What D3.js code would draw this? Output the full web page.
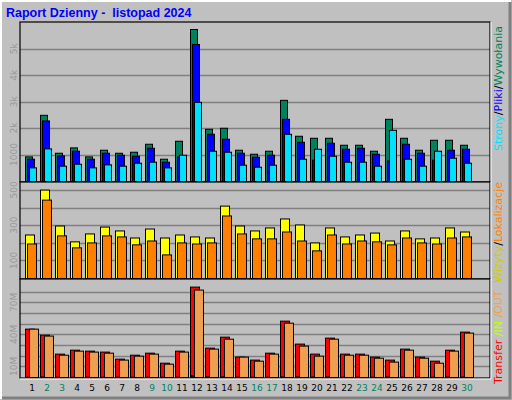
<!DOCTYPE html>
<html><head><meta charset="utf-8">
<script src="https://cdn.jsdelivr.net/npm/d3@7"></script>
<style>body{margin:0;background:#fff}</style></head>
<body><svg id="c" width="512" height="400"></svg>
<script>
const days = d3.range(1,31);
const weekend = [2,3,9,10,16,17,23,24,30];
const hits  = [931,2503,1069,1271,931,1183,1069,1107,1409,843,1522,5749,1975,2013,1183,1031,1145,3069,1711,1635,1635,1371,1371,1145,2352,1635,1183,1560,1560,1371];
const files = [843,2290,969,1145,843,1069,994,956,1258,730,931,5183,1786,1598,1069,918,994,2352,1484,805,1447,1220,1258,1031,780,1409,1069,805,1183,1220];
const pages = [516,1233,579,654,516,629,579,692,730,516,994,2994,1145,1107,616,541,616,1786,843,1220,956,730,730,579,1937,843,579,1145,881,692];
const visits= [247,502,298,208,253,292,270,230,281,230,247,236,230,411,298,270,287,338,304,202,287,236,247,258,213,270,225,230,287,264];
const sites = [196,445,242,174,202,242,236,191,213,134,202,196,202,355,253,225,225,264,213,157,247,196,213,208,191,230,202,196,230,236];
const kbTotal=[45.3,39.7,21.9,25.6,24.7,23.8,17.2,20.9,22.8,13.4,24.7,84.7,27.5,37.8,19.1,16.3,22.8,52.8,31.3,21.9,36.9,21.9,21.9,19.1,16.3,26.6,19.1,15.3,25.6,42.5];
const kbIn  = [0.3,0.5,0.3,0.3,0.3,0.3,0.3,0.3,0.3,0.3,0.3,1.8,0.5,0.6,0.3,0.3,0.3,0.6,0.5,0.5,0.5,0.3,0.3,0.3,0.5,0.3,0.3,0.3,0.5,0.4];
const kbOut = [45.3,38.8,20.9,24.7,23.8,22.8,16.3,20,21.9,12.5,23.8,81.9,26.6,35.9,19.1,15.3,21.9,50.9,29.4,20,35.9,20.9,20.9,18.1,14.4,25.6,18.1,13.4,24.7,41.6];
const topTicks=[1000,2000,3000,4000,5000], topLabels=["1000","2k","3k","4k","5k"];
const midTicks=[100,200,300,400,500], midLabels=["100","","300","","500"];
const botTicks=[10,20,30,40,50,60,70,80], botLabels=["10M","","","40M","","","70M",""];

const svg=d3.select("#c");
svg.append("rect").attr("width",512).attr("height",400).attr("fill","#C0C0C0");
svg.append("path").attr("d","M1,399V1H511").attr("stroke","#fff").attr("stroke-width",2).attr("fill","none");
svg.append("path").attr("d","M2,398H510V2").attr("stroke","#808080").attr("stroke-width",3).attr("fill","none");
svg.append("text").attr("x",6).attr("y",17).text("Raport Dzienny -  listopad 2024")
  .attr("font-family","Liberation Sans, Arial").attr("font-weight","bold").attr("font-size",12.5).attr("fill","#0000FF").attr("xml:space","preserve");

const x=d3.scaleBand().domain(days).range([25,475]).paddingInner(0);
const L=20,R=490;
const panels=[
 {top:25,bot:181,max:5900,ticks:topTicks,labels:topLabels,series:[[hits,"#00805C",0,7],[files,"#0000FF",2,7],[pages,"#00E0FF",4,7]]},
 {top:185,bot:278,max:528,ticks:midTicks,labels:midLabels,series:[[visits,"#FFFF00",0,9],[sites,"#FF8000",2,9]]},
 {top:282,bot:377,max:89,ticks:botTicks,labels:botLabels,series:[[kbTotal,"#FF0000",0,9],[kbIn,"#C0FF00",1,2],[kbOut,"#EEA050",4,9]]}
];
panels.forEach(p=>{
  const y=d3.scaleLinear().domain([0,p.max]).range([p.bot,p.top]);
  svg.append("rect").attr("x",L).attr("y",p.top-3).attr("width",R-L).attr("height",p.bot-p.top+5).attr("fill","#C0C0C0");
  const g=svg.append("g");
  g.selectAll("line.g").data(p.ticks).join("line").attr("x1",L).attr("x2",R)
    .attr("y1",d=>Math.round(y(d))+0.5).attr("y2",d=>Math.round(y(d))+0.5).attr("stroke","#808080").attr("stroke-width",1.5);
  g.selectAll("text").data(p.ticks).join("text").text((d,i)=>p.labels[i])
    .attr("transform",d=>`translate(17,${y(d)}) rotate(-90)`).attr("text-anchor","middle")
    .attr("font-family","DejaVu Sans").attr("font-size",9).attr("fill","#999");
  p.series.forEach(([vals,col,off,w])=>{
    g.selectAll(null).data(vals).join("rect")
      .attr("x",(d,i)=>x(days[i])+off+0.5).attr("width",w)
      .attr("y",d=>y(d)+0.5).attr("height",d=>Math.max(0,p.bot-y(d)))
      .attr("fill",col).attr("stroke","#000").attr("stroke-width",1);
  });
  svg.append("rect").attr("x",L).attr("y",p.top-3).attr("width",R-L).attr("height",p.bot-p.top+4)
    .attr("fill","none").attr("stroke","#000").attr("stroke-width",1.2);
  svg.append("path").attr("d",`M${L},${p.bot+2}H${R+1}V${p.top-3}`).attr("stroke","#fff").attr("fill","none");
});
svg.append("g").selectAll("text").data(days).join("text").text(d=>d)
  .attr("x",d=>x(d)+7).attr("y",391).attr("text-anchor","middle")
  .attr("font-family","DejaVu Sans").attr("font-size",9)
  .attr("fill",d=>weekend.includes(d)?"#00805C":"#000");
function vlabel(yPos,anchor,parts){
  const t=svg.append("text").attr("transform",`translate(502,${yPos}) rotate(-90)`).attr("text-anchor",anchor)
    .attr("font-family","DejaVu Sans").attr("font-size",11);
  parts.forEach(([s,c])=>t.append("tspan").text(s).attr("fill",c));
}
vlabel(26,"end",[["Strony","#00E0FF"],["/","#000"],["Pliki","#0000FF"],["/","#000"],["Wywołania","#00805C"]]);
vlabel(182,"end",[["Wizyty","#CCCC00"],["/","#000"],["Lokalizacje","#FF8000"]]);
vlabel(384,"start",[["Transfer","#FF0000"],[" /IN","#C0FF00"],[" /OUT","#EEA050"]]);
</script></body></html>
